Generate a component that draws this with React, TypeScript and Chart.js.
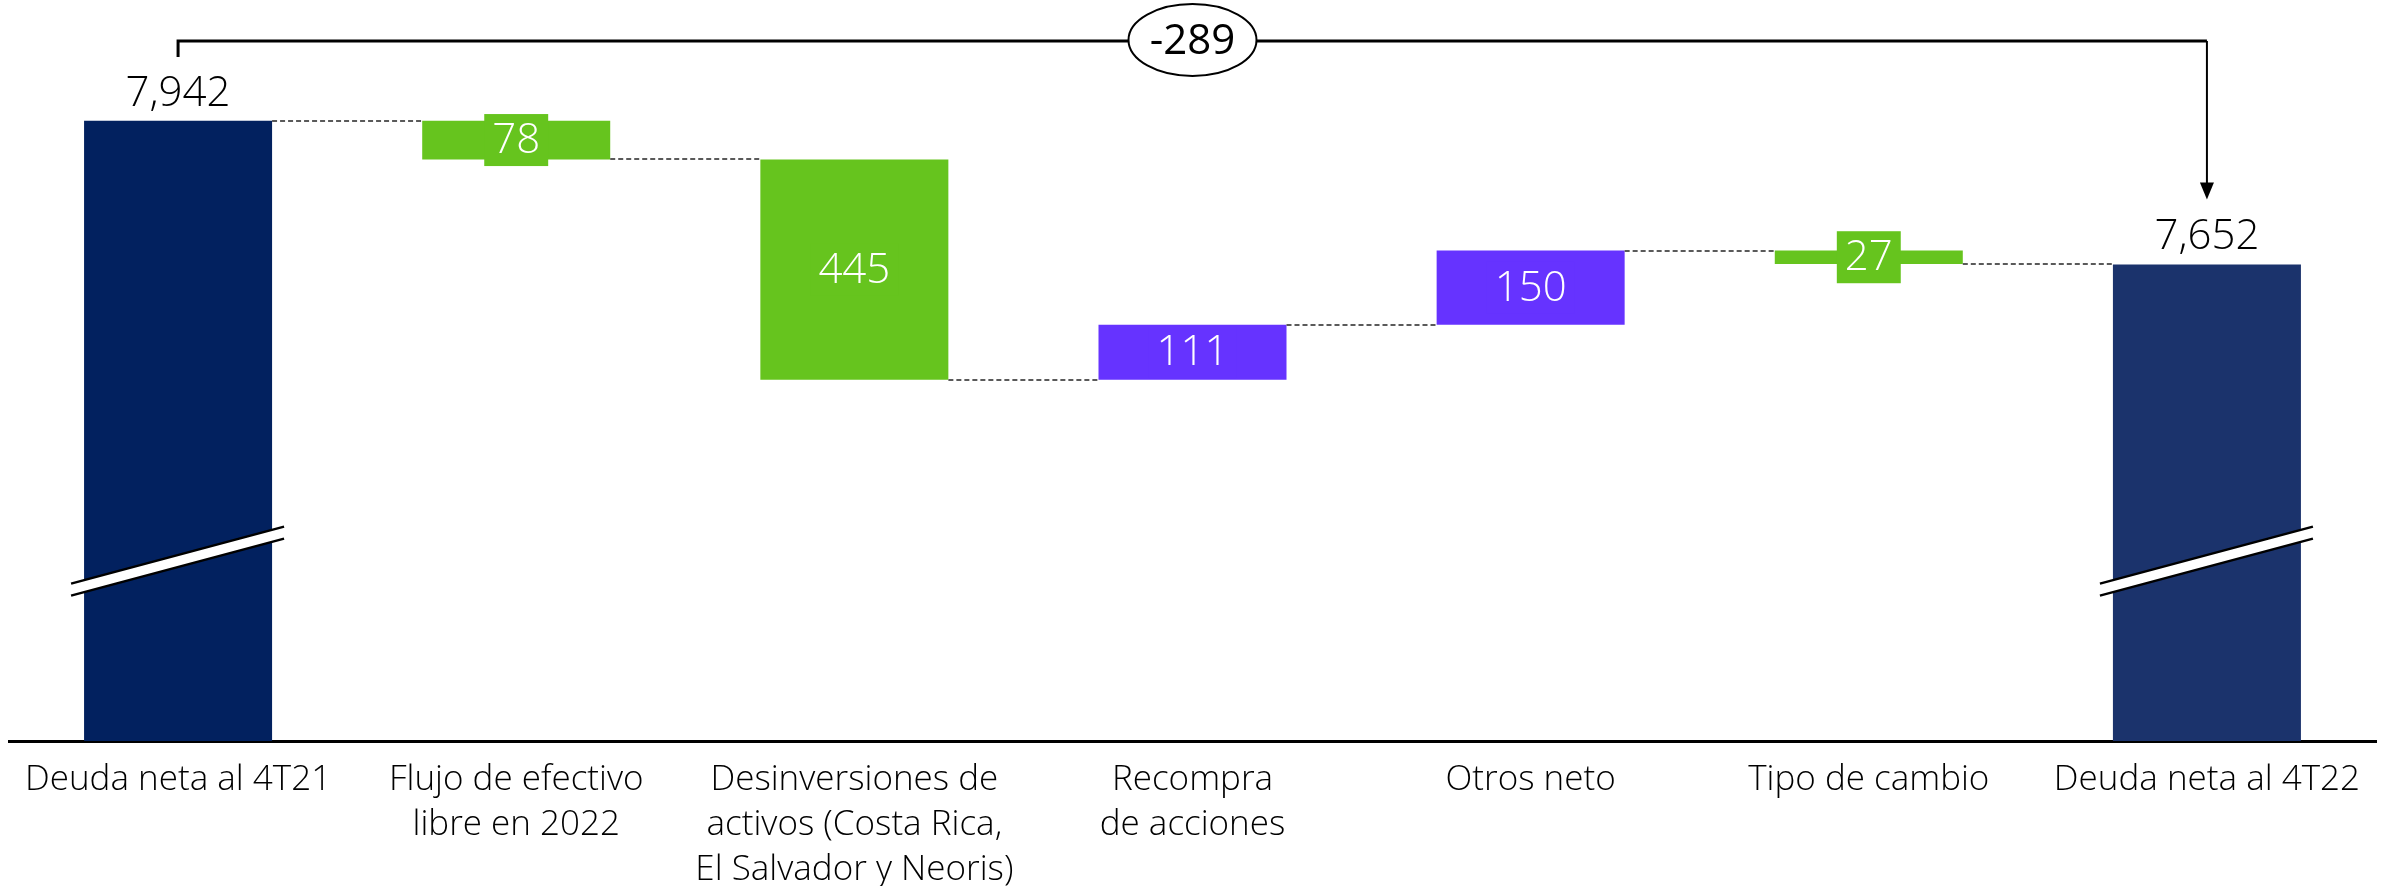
import React, { useEffect, useRef } from 'react';
import { Chart, registerables } from 'chart.js';

Chart.register(...registerables);

const categories: string[][] = [
  ['Deuda neta al 4T21'],
  ['Flujo de efectivo', 'libre en 2022'],
  ['Desinversiones de', 'activos (Costa Rica,', 'El Salvador y Neoris)'],
  ['Recompra', 'de acciones'],
  ['Otros neto'],
  ['Tipo de cambio'],
  ['Deuda neta al 4T22'],
];
const startTotal = 7942;
const endTotal = 7652;
const changes = [-78, -445, 111, 150, -27];
const changeLabels = ['78', '445', '111', '150', '27'];
const totalLabels = ['7,942', '7,652'];
const bracketLabel = '-289';
const axisMin = 6690;
const axisMax = 8000;
const breakValue = 7053;

const NAVY1 = '#02215F';
const NAVY2 = '#1B336C';
const GREEN = '#66C41E';
const PURPLE = '#6633FF';
const FONT = "'Open Sans', 'Noto Sans', sans-serif";

function buildRanges() {
  const ranges: [number, number][] = [];
  const levels: number[] = [];
  let running = startTotal;
  ranges.push([axisMin, startTotal]);
  levels.push(running);
  changes.forEach((c) => {
    ranges.push([running, running + c]);
    running += c;
    levels.push(running);
  });
  ranges.push([axisMin, endTotal]);
  return { ranges, levels };
}

export default function App() {
  const ref = useRef<HTMLCanvasElement | null>(null);

  useEffect(() => {
    const canvas = ref.current;
    if (!canvas) return;
    const { ranges, levels } = buildRanges();
    const colors = [NAVY1, ...changes.map((c) => (c < 0 ? GREEN : PURPLE)), NAVY2];

    const overlay = {
      id: 'overlay',
      afterDatasetsDraw(chart: any) {
        const ctx: CanvasRenderingContext2D = chart.ctx;
        const meta = chart.getDatasetMeta(0);
        const ys = chart.scales.y;
        const bars = meta.data as any[];
        ctx.save();

        // connectors
        ctx.strokeStyle = '#5a5a5a';
        ctx.lineWidth = 2;
        ctx.setLineDash([5, 3]);
        for (let i = 0; i < bars.length - 1; i++) {
          const a = bars[i];
          const b = bars[i + 1];
          const yy = Math.round(ys.getPixelForValue(levels[i]));
          ctx.beginPath();
          ctx.moveTo(a.x + a.width / 2, yy);
          ctx.lineTo(b.x - b.width / 2, yy);
          ctx.stroke();
        }
        ctx.setLineDash([]);

        // axis break marks on totals
        [0, bars.length - 1].forEach((i) => {
          const b = bars[i];
          const L = b.x - b.width / 2 - 13;
          const R = b.x + b.width / 2 + 12;
          const cy = ys.getPixelForValue(breakValue);
          const dy = 28.5;
          const h = 6;
          ctx.fillStyle = '#ffffff';
          ctx.beginPath();
          ctx.moveTo(L, cy + dy - h);
          ctx.lineTo(R, cy - dy - h);
          ctx.lineTo(R, cy - dy + h);
          ctx.lineTo(L, cy + dy + h);
          ctx.closePath();
          ctx.fill();
          ctx.strokeStyle = '#000';
          ctx.lineWidth = 2.5;
          ctx.beginPath();
          ctx.moveTo(L, cy + dy - h);
          ctx.lineTo(R, cy - dy - h);
          ctx.moveTo(L, cy + dy + h);
          ctx.lineTo(R, cy - dy + h);
          ctx.stroke();
        });

        // step labels
        ctx.font = `300 42px ${FONT}`;
        ctx.textAlign = 'center';
        ctx.textBaseline = 'middle';
        for (let i = 1; i < bars.length - 1; i++) {
          const b = bars[i];
          const cy = (b.y + b.base) / 2;
          const txt = changeLabels[i - 1];
          const w = ctx.measureText(txt).width + 16;
          ctx.fillStyle = colors[i];
          ctx.fillRect(b.x - w / 2, cy - 26, w, 52);
          ctx.fillStyle = '#ffffff';
          ctx.fillText(txt, b.x, cy + 1);
        }

        // total labels
        ctx.fillStyle = '#000';
        ctx.textBaseline = 'alphabetic';
        [0, bars.length - 1].forEach((i, k) => {
          const b = bars[i];
          ctx.fillText(totalLabels[k], b.x, b.y - 15);
        });

        // bracket
        const x0 = bars[0].x;
        const x1 = bars[bars.length - 1].x;
        const by = 41;
        ctx.strokeStyle = '#000';
        ctx.lineWidth = 3;
        ctx.beginPath();
        ctx.moveTo(x0, 57);
        ctx.lineTo(x0, by);
        ctx.lineTo(x1, by);
        ctx.stroke();
        ctx.lineWidth = 2;
        const tipY = bars[bars.length - 1].y - 65;
        ctx.beginPath();
        ctx.moveTo(x1, by);
        ctx.lineTo(x1, tipY - 14);
        ctx.stroke();
        ctx.fillStyle = '#000';
        ctx.beginPath();
        ctx.moveTo(x1 - 7, tipY - 17);
        ctx.lineTo(x1 + 7, tipY - 17);
        ctx.lineTo(x1, tipY);
        ctx.closePath();
        ctx.fill();

        const mx = (x0 + x1) / 2;
        ctx.fillStyle = '#fff';
        ctx.beginPath();
        ctx.ellipse(mx, 40, 64, 36, 0, 0, Math.PI * 2);
        ctx.fill();
        ctx.lineWidth = 2;
        ctx.stroke();
        ctx.fillStyle = '#000';
        ctx.font = `42px ${FONT}`;
        ctx.textBaseline = 'middle';
        ctx.fillText(bracketLabel, mx, 42);

        ctx.restore();
      },
    };

    const chart = new Chart(canvas, {
      type: 'bar',
      data: {
        labels: categories,
        datasets: [
          {
            data: ranges as any,
            backgroundColor: colors,
            borderWidth: 0,
            barPercentage: 0.556,
            categoryPercentage: 1,
          },
        ],
      },
      options: {
        responsive: false,
        animation: false,
        layout: { padding: { top: 92, left: 9, right: 13, bottom: 0 } },
        plugins: { legend: { display: false }, tooltip: { enabled: false } },
        scales: {
          x: {
            grid: { display: false, drawTicks: false },
            border: { display: true, color: '#000', width: 3 },
            afterFit: (scale: any) => {
              scale.height = 145;
            },
            ticks: {
              color: '#000',
              font: { family: FONT, size: 35, weight: 300, lineHeight: 1.286 },
              padding: 17,
              maxRotation: 0,
              autoSkip: false,
            },
          },
          y: { display: false, min: axisMin, max: axisMax },
        },
      },
      plugins: [overlay],
    });
    return () => chart.destroy();
  }, []);

  return (
    <div style={{ position: 'absolute', left: 0, top: 0, width: 2389, height: 886, background: '#fff' }}>
      <canvas ref={ref} width={2389} height={886} style={{ display: 'block' }} />
    </div>
  );
}
